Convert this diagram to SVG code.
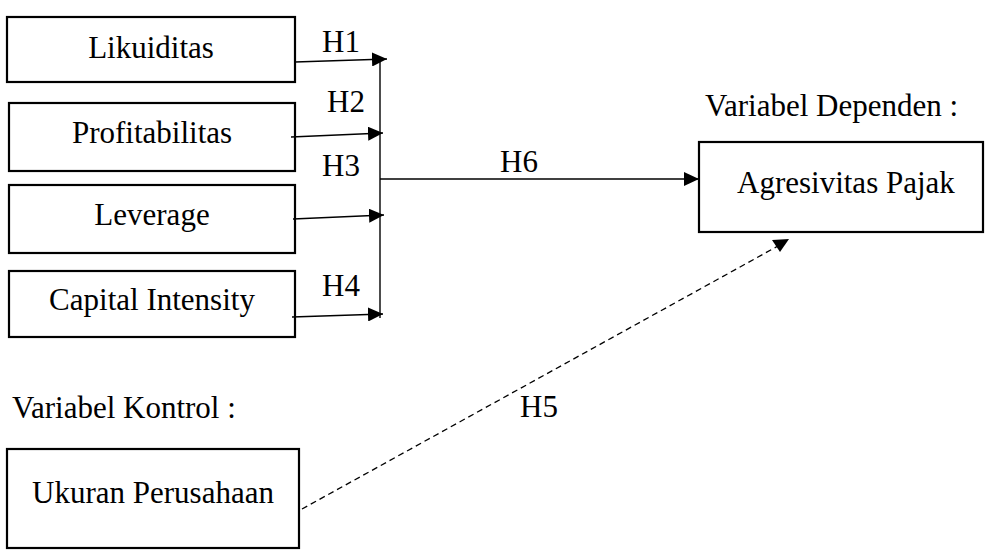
<svg xmlns="http://www.w3.org/2000/svg" width="985" height="552" viewBox="0 0 985 552">
<style>
.box{fill:#fff;stroke:#000;stroke-width:2.2}
text{font-family:'Liberation Serif','Times New Roman',serif;font-size:31px;fill:#000}
.c{text-anchor:middle}
.ln{stroke:#000;stroke-width:1.4;fill:none}
.dash{stroke:#000;stroke-width:1.3;fill:none;stroke-dasharray:6 4}
</style>
<defs>
<marker id="ah" markerUnits="userSpaceOnUse" markerWidth="16" markerHeight="14" refX="15" refY="7" orient="auto">
<path d="M0,0 L15,7 L0,14 Z" fill="#000"/>
</marker>
</defs>
<rect width="985" height="552" fill="#fff"/>
<g id="likuiditas"><rect class="box" x="7" y="17" width="288" height="65"/><text class="c" x="151" y="58">Likuiditas</text></g>
<g id="profitabilitas"><rect class="box" x="9" y="103" width="286" height="68"/><text class="c" x="152" y="143">Profitabilitas</text></g>
<g id="leverage"><rect class="box" x="9" y="185" width="286" height="68"/><text class="c" x="152" y="225">Leverage</text></g>
<g id="capital"><rect class="box" x="9" y="271" width="286" height="66"/><text class="c" x="152" y="310">Capital Intensity</text></g>
<g id="agresivitas"><rect class="box" x="699" y="142" width="284" height="90"/><text x="737" y="193">Agresivitas Pajak</text></g>
<g id="ukuran"><rect class="box" x="7" y="449" width="292" height="99"/><text class="c" x="153" y="503">Ukuran Perusahaan</text></g>
<g id="labels">
<text x="705" y="116">Variabel Dependen :</text>
<text x="12" y="418">Variabel Kontrol :</text>
</g>
<g id="connectors">
<line class="ln" x1="380" y1="60" x2="380" y2="318"/>
<line class="ln" x1="295" y1="62" x2="387" y2="59" marker-end="url(#ah)"/>
<line class="ln" x1="291" y1="137" x2="383" y2="133" marker-end="url(#ah)"/>
<line class="ln" x1="293" y1="219" x2="384" y2="215" marker-end="url(#ah)"/>
<line class="ln" x1="292" y1="317" x2="383" y2="314" marker-end="url(#ah)"/>
<line class="ln" x1="380" y1="179" x2="699" y2="179" marker-end="url(#ah)"/>
<line class="dash" x1="302" y1="509" x2="778" y2="246"/>
<polygon points="772,240 789,239 780,252" fill="#000"/>
<text x="322" y="52">H1</text>
<text x="327" y="112">H2</text>
<text x="322" y="176">H3</text>
<text x="322" y="296">H4</text>
<text x="520" y="417">H5</text>
<text x="500" y="172">H6</text>
</g>
</svg>
